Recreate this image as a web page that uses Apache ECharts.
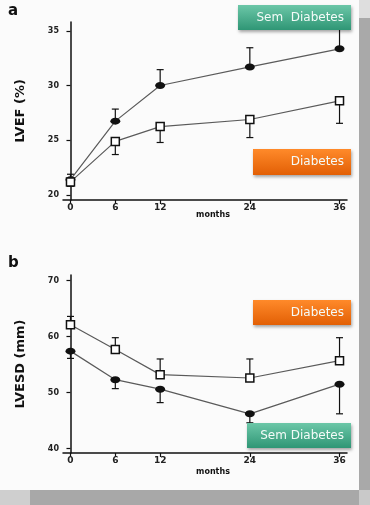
<!DOCTYPE html>
<html><head><meta charset="utf-8">
<script src="https://cdn.jsdelivr.net/npm/echarts@6/dist/echarts.min.js"></script>
<style>html,body{margin:0;padding:0;background:#fbfbfb}#c{width:370px;height:505px}</style>
</head><body><div id="c"></div>
<script>
const months = [0, 6, 12, 24, 36];
const xTicks = [0, 6, 12, 24, 36];
// Panel a: LVEF (%)
const lvefSem = [21.4, 26.75, 30.0, 31.7, 33.35];
const lvefSemErrHi = [21.9, 27.85, 31.45, 33.45, 35.3];
const lvefDia = [21.2, 24.9, 26.25, 26.9, 28.6];
const lvefDiaErrLo = [20.8, 23.7, 24.8, 25.25, 26.55];
const lvefTicks = [20, 25, 30, 35];
// Panel b: LVESD (mm)
const lvesdDia = [62.1, 57.7, 53.2, 52.6, 55.7];
const lvesdDiaErrHi = [63.6, 59.8, 56.0, 56.0, 59.8];
const lvesdSem = [57.4, 52.3, 50.6, 46.2, 51.5];
const lvesdSemErrLo = [56.1, 50.7, 48.2, 44.6, 46.2];
const lvesdTicks = [40, 50, 60, 70];

const chart = echarts.init(document.getElementById('c'), null, {renderer: 'canvas'});
const FONT = 'DejaVu Sans';

function pairs(ys){ return months.map((m,i)=>[m, ys[i]]); }
function errData(vals, ends){ return months.map((m,i)=>[m, vals[i], ends[i]]); }

function errSeries(idx, vals, ends){
  return {
    type: 'custom', xAxisIndex: idx, yAxisIndex: idx, z: 1,
    data: errData(vals, ends),
    renderItem: function(params, api){
      const p0 = api.coord([api.value(0), api.value(1)]);
      const p1 = api.coord([api.value(0), api.value(2)]);
      const s = {stroke: '#111', lineWidth: 1.2};
      return {type: 'group', children: [
        {type: 'line', shape: {x1: p0[0], y1: p0[1], x2: p1[0], y2: p1[1]}, style: s},
        {type: 'line', shape: {x1: p1[0]-3.5, y1: p1[1], x2: p1[0]+3.5, y2: p1[1]}, style: s}
      ]};
    }
  };
}
function lineSeries(idx, ys, filled){
  return {
    type: 'line', xAxisIndex: idx, yAxisIndex: idx, z: 3,
    data: pairs(ys),
    symbol: filled ? 'circle' : 'rect',
    symbolSize: filled ? [10, 7] : 8,
    showSymbol: true,
    lineStyle: {color: '#5a5a5a', width: 1.2},
    itemStyle: filled ? {color: '#111', borderColor: '#111', borderWidth: 0}
                      : {color: '#fff', borderColor: '#111', borderWidth: 1.5},
    emphasis: {disabled: true}, animation: false
  };
}
function xAxisDef(gi){
  return {
    type: 'value', gridIndex: gi, min: -1, max: 37,
    axisLine: {show: true, lineStyle: {color: '#111', width: 1.5}},
    axisTick: {show: true, customValues: xTicks, length: 4, lineStyle: {color: '#111', width: 1.2}},
    axisLabel: {customValues: xTicks, color: '#222', fontFamily: FONT, fontWeight: 'bold', fontSize: 9, margin: 3},
    splitLine: {show: false}
  };
}
function yAxisDef(gi, min, max, ticks, name, gap){
  return {
    type: 'value', gridIndex: gi, min: min, max: max,
    name: name, nameLocation: 'middle', nameGap: gap, nameRotate: 90,
    nameTextStyle: {fontFamily: FONT, fontWeight: 'bold', fontSize: 13, color: '#111'},
    axisLine: {show: true, lineStyle: {color: '#111', width: 1.5}},
    axisTick: {show: true, customValues: ticks, length: 4, lineStyle: {color: '#111', width: 1.2}},
    axisLabel: {customValues: ticks, color: '#222', fontFamily: FONT, fontWeight: 'bold', fontSize: 8, margin: 4},
    splitLine: {show: false}
  };
}
function box(x, y, w, h, text, green){
  const c = green
    ? [{offset: 0, color: '#6cc7a8'}, {offset: 1, color: '#2f9675'}]
    : [{offset: 0, color: '#ff8a2a'}, {offset: 1, color: '#e25f05'}];
  return {
    type: 'group', z: 100,
    children: [
      {type: 'rect', z: 100, shape: {x: x, y: y, width: w, height: h},
       style: {fill: new echarts.graphic.LinearGradient(0,0,0,1,c), shadowBlur: 3, shadowColor: 'rgba(0,0,0,0.35)', shadowOffsetX: 1, shadowOffsetY: 2}},
      {type: 'text', z: 101, style: {x: x + w - 7, y: y + h/2, text: text, align: 'right', verticalAlign: 'middle',
        fill: '#f4fbf8', font: '12px "' + FONT + '"'}}
    ]
  };
}

chart.setOption({
  animation: false,
  backgroundColor: '#fbfbfb',
  grid: [
    {left: 63, top: 22, width: 284, height: 178},
    {left: 63, top: 275, width: 284, height: 178}
  ],
  xAxis: [xAxisDef(0), xAxisDef(1)],
  yAxis: [
    yAxisDef(0, 19.55, 35.8, lvefTicks, 'LVEF (%)', 36),
    yAxisDef(1, 39.2, 71.0, lvesdTicks, 'LVESD (mm)', 36)
  ],
  series: [
    errSeries(0, lvefSem, lvefSemErrHi),
    errSeries(0, lvefDia, lvefDiaErrLo),
    lineSeries(0, lvefSem, true),
    lineSeries(0, lvefDia, false),
    errSeries(1, lvesdDia, lvesdDiaErrHi),
    errSeries(1, lvesdSem, lvesdSemErrLo),
    lineSeries(1, lvesdDia, false),
    lineSeries(1, lvesdSem, true)
  ],
  graphic: [
    {type: 'rect', z: -10, silent: true, shape: {x: 359, y: 0, width: 11, height: 18}, style: {fill: '#dedede'}},
    {type: 'rect', z: -10, silent: true, shape: {x: 359, y: 18, width: 11, height: 472}, style: {fill: '#a9a9a9'}},
    {type: 'rect', z: -10, silent: true, shape: {x: 0, y: 490, width: 30, height: 15}, style: {fill: '#cfcfcf'}},
    {type: 'rect', z: -10, silent: true, shape: {x: 30, y: 490, width: 329, height: 15}, style: {fill: '#a8a8a8'}},
    {type: 'rect', z: -10, silent: true, shape: {x: 359, y: 490, width: 11, height: 15}, style: {fill: '#c9c9c9'}},
    {type: 'text', z: 50, style: {x: 8, y: 4, text: 'a', fill: '#111', font: 'bold 15px "' + FONT + '"'}},
    {type: 'text', z: 50, style: {x: 8, y: 256, text: 'b', fill: '#111', font: 'bold 15px "' + FONT + '"'}},
    {type: 'text', z: 50, style: {x: 213, y: 211, text: 'months', align: 'center', fill: '#111', font: 'bold 8px "' + FONT + '"'}},
    {type: 'text', z: 50, style: {x: 213, y: 468, text: 'months', align: 'center', fill: '#111', font: 'bold 8px "' + FONT + '"'}},
    box(238, 5, 113, 25, 'Sem  Diabetes', true),
    box(253, 149, 98, 26, 'Diabetes', false),
    box(253, 300, 98, 25, 'Diabetes', false),
    box(247, 423, 104, 25, 'Sem Diabetes', true)
  ]
});
</script></body></html>
